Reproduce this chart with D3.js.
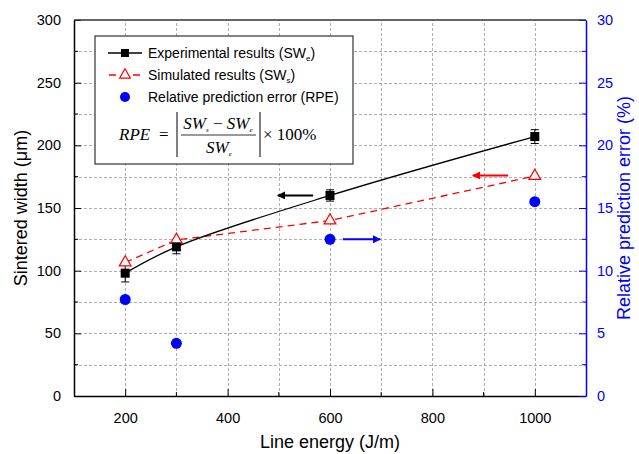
<!DOCTYPE html>
<html>
<head>
<meta charset="utf-8">
<script src="https://d3js.org/d3.v7.min.js"></script>
<style>
  body { margin: 0; background: #fff; }
  svg { font-family: "Liberation Sans", Arial, sans-serif; }
</style>
</head>
<body>
<svg id="chart"></svg>
<script>
const width = 639;
const height = 454;

// Data
const energy = [200, 300, 600, 1000];
const experimental = [98, 119, 160, 207];
const expError = [7, 5.5, 4.5, 5.5];
const simulated = [106.5, 124.5, 140, 175.5];
const rpe = [7.7, 4.2, 12.5, 15.5];

// Arrow hints: tail x, head x, value level, axis
const arrowsData = [
    { x1: 567, x2: 498, v: 160, axis: 'left', color: '#000' },
    { x1: 948, x2: 879, v: 176, axis: 'left', color: '#f00' },
    { x1: 625, x2: 698, v: 12.5, axis: 'right', color: '#0000ff' }
];

const xTicks = [200, 400, 600, 800, 1000];
const yTicks = [0, 50, 100, 150, 200, 250, 300];
const y2Ticks = [0, 5, 10, 15, 20, 25, 30];

const margin = { left: 74, right: 53, top: 20, bottom: 58 };
const x0 = margin.left, x1 = width - margin.right;
const y0 = height - margin.bottom, y1 = margin.top;

const svg = d3.select('#chart')
    .attr('width', width)
    .attr('height', height);

const x = d3.scaleLinear().domain([100, 1100]).range([x0, x1]);
const y = d3.scaleLinear().domain([0, 300]).range([y0, y1]);
const y2 = d3.scaleLinear().domain([0, 30]).range([y0, y1]);
const crisp = v => Math.round(v) + 0.5;

// Grid (dotted, every minor step)
const grid = svg.append('g').attr('class', 'grid');
grid.selectAll('path.hg')
    .data(d3.range(25, 300, 25))
    .join('path').attr('class', 'hg')
    .attr('d', d => `M${x0},${crisp(y(d))}H${x1}`);
grid.selectAll('path.vg')
    .data(d3.range(200, 1100, 100))
    .join('path').attr('class', 'vg')
    .attr('d', d => `M${crisp(x(d))},${y0}V${y1}`);
grid.selectAll('path')
    .attr('fill', 'none')
    .attr('stroke', '#b0b0b0').attr('stroke-width', 1).attr('stroke-dasharray', '3,2');

// Axes (ticks inward)
const xAxis = svg.append('g')
    .attr('transform', `translate(0,${y0})`)
    .call(d3.axisBottom(x).tickValues(xTicks).tickFormat(d3.format('d'))
        .tickSizeInner(-7).tickSizeOuter(0).tickPadding(17));
xAxis.select('.domain').attr('stroke', '#000').attr('stroke-width', 1.5);
xAxis.selectAll('text').attr('font-size', 14.5).attr('fill', '#000');
xAxis.selectAll('.minor')
    .data(d3.range(300, 1100, 200))
    .enter().append('line').attr('class', 'minor')
    .attr('x1', d => x(d)).attr('x2', d => x(d))
    .attr('y1', 0).attr('y2', -4).attr('stroke', '#000');

const yAxis = svg.append('g')
    .attr('transform', `translate(${x0},0)`)
    .call(d3.axisLeft(y).tickValues(yTicks).tickSizeInner(-7).tickSizeOuter(0).tickPadding(13));
yAxis.select('.domain').attr('stroke', '#000').attr('stroke-width', 1.5);
yAxis.selectAll('text').attr('font-size', 14.5).attr('fill', '#000');
yAxis.selectAll('.minor')
    .data(d3.range(25, 300, 50))
    .enter().append('line').attr('class', 'minor')
    .attr('y1', d => y(d)).attr('y2', d => y(d))
    .attr('x1', 0).attr('x2', 4).attr('stroke', '#000');

const y2Axis = svg.append('g')
    .attr('transform', `translate(${x1},0)`)
    .call(d3.axisRight(y2).tickValues(y2Ticks).tickSizeInner(-7).tickSizeOuter(0).tickPadding(11));
y2Axis.select('.domain').attr('stroke', '#0000ff').attr('stroke-width', 1.5);
y2Axis.selectAll('.tick line').attr('stroke', '#0000ff');
y2Axis.selectAll('text').attr('font-size', 14.5).attr('fill', '#0000ff');
y2Axis.selectAll('.minor')
    .data(d3.range(2.5, 30, 5))
    .enter().append('line').attr('class', 'minor')
    .attr('y1', d => y2(d)).attr('y2', d => y2(d))
    .attr('x1', 0).attr('x2', -4).attr('stroke', '#0000ff');

// Top frame
svg.append('line')
    .attr('x1', x0).attr('x2', x1).attr('y1', y1).attr('y2', y1)
    .attr('stroke', '#333').attr('stroke-width', 1.5);

// Axis titles
svg.append('text')
    .attr('transform', `translate(27,${(y0 + y1) / 2}) rotate(-90)`)
    .attr('text-anchor', 'middle').attr('font-size', 18)
    .text('Sintered width (\u03bcm)');
svg.append('text')
    .attr('x', (x0 + x1) / 2).attr('y', 448)
    .attr('text-anchor', 'middle').attr('font-size', 18)
    .text('Line energy (J/m)');
svg.append('text')
    .attr('transform', `translate(630,${(y0 + y1) / 2}) rotate(-90)`)
    .attr('text-anchor', 'middle').attr('font-size', 18).attr('fill', '#0000ff')
    .text('Relative prediction error (%)');

// Series
const expPts = energy.map((e, i) => ({ x: e, v: experimental[i], err: expError[i] }));
const simPts = energy.map((e, i) => ({ x: e, v: simulated[i] }));
const rpePts = energy.map((e, i) => ({ x: e, v: rpe[i] }));

const line = d3.line().x(d => x(d.x)).y(d => y(d.v));

svg.append('path').datum(simPts)
    .attr('d', line).attr('fill', 'none')
    .attr('stroke', '#f00').attr('stroke-width', 1.3).attr('stroke-dasharray', '7,5');
svg.append('path').datum(expPts)
    .attr('d', line.curve(d3.curveCatmullRom.alpha(0.5))).attr('fill', 'none')
    .attr('stroke', '#000').attr('stroke-width', 1.3);

// Error bars
const eb = svg.append('g').selectAll('g').data(expPts).enter().append('g');
eb.append('line')
    .attr('x1', d => x(d.x)).attr('x2', d => x(d.x))
    .attr('y1', d => y(d.v - d.err)).attr('y2', d => y(d.v + d.err))
    .attr('stroke', '#000');
[-1, 1].forEach(s => {
    eb.append('line')
        .attr('x1', d => x(d.x) - 4).attr('x2', d => x(d.x) + 4)
        .attr('y1', d => y(d.v + s * d.err)).attr('y2', d => y(d.v + s * d.err))
        .attr('stroke', '#000');
});

const tri = d3.symbol().type(d3.symbolTriangle).size(60);
svg.append('g').selectAll('path').data(simPts).enter().append('path')
    .attr('d', tri)
    .attr('transform', d => `translate(${x(d.x)},${y(d.v)})`)
    .attr('fill', '#fff').attr('stroke', '#f00').attr('stroke-width', 1.2);

svg.append('g').selectAll('rect').data(expPts).enter().append('rect')
    .attr('x', d => x(d.x) - 4.5).attr('y', d => y(d.v) - 4.5)
    .attr('width', 9).attr('height', 9).attr('fill', '#000');

svg.append('g').selectAll('circle').data(rpePts).enter().append('circle')
    .attr('cx', d => x(d.x)).attr('cy', d => y2(d.v)).attr('r', 5.5)
    .attr('fill', '#0000ff');

// Arrows
const defs = svg.append('defs');
arrowsData.forEach((a, i) => {
    defs.append('marker')
        .attr('id', 'arr' + i)
        .attr('viewBox', '0 0 10 10').attr('refX', 9).attr('refY', 5)
        .attr('markerWidth', 5).attr('markerHeight', 4)
        .attr('markerUnits', 'strokeWidth')
        .attr('orient', 'auto')
        .append('path').attr('d', 'M0,0 L10,5 L0,10 Z').attr('fill', a.color);
    const sc = a.axis === 'left' ? y : y2;
    svg.append('line')
        .attr('x1', x(a.x1)).attr('x2', x(a.x2))
        .attr('y1', sc(a.v)).attr('y2', sc(a.v))
        .attr('stroke', a.color).attr('stroke-width', 2)
        .attr('marker-end', `url(#arr${i})`);
});

// Legend
const lg = svg.append('g').attr('transform', 'translate(95,36)');
lg.append('rect').attr('width', 258).attr('height', 128)
    .attr('fill', '#fff').attr('stroke', '#333').attr('stroke-width', 1.2);

const legendRows = [
    { label: 'Experimental results (SW', sub: 'e', type: 'exp' },
    { label: 'Simulated results (SW', sub: 's', type: 'sim' },
    { label: 'Relative prediction error (RPE)', sub: null, type: 'rpe' }
];
legendRows.forEach((r, i) => {
    const ry = 17 + i * 22;
    const g = lg.append('g').attr('transform', `translate(0,${ry})`);
    if (r.type === 'exp') {
        g.append('line').attr('x1', 13).attr('x2', 47).attr('stroke', '#000').attr('stroke-width', 1.3);
        g.append('rect').attr('x', 26).attr('y', -4).attr('width', 8).attr('height', 8).attr('fill', '#000');
    } else if (r.type === 'sim') {
        g.append('line').attr('x1', 13).attr('x2', 47).attr('stroke', '#f00').attr('stroke-width', 1.3).attr('stroke-dasharray', '7,5').attr('stroke-dashoffset', -1);
        g.append('path').attr('d', d3.symbol().type(d3.symbolTriangle).size(50)).attr('transform', 'translate(30,0)')
            .attr('fill', '#fff').attr('stroke', '#f00').attr('stroke-width', 1.2);
    } else {
        g.append('circle').attr('cx', 30).attr('r', 5).attr('fill', '#0000ff');
    }
    const t = g.append('text').attr('x', 53).attr('y', 5).attr('font-size', 14);
    t.append('tspan').text(r.label);
    if (r.sub) {
        t.append('tspan').attr('font-size', 8).attr('dy', 3).text(r.sub);
        t.append('tspan').attr('dy', -3).text(')');
    }
});

// Formula
const fm = lg.append('g').attr('font-family', '"Liberation Serif", "Times New Roman", serif');
fm.append('text').attr('x', 24).attr('y', 104).attr('font-size', 17).attr('font-style', 'italic').text('RPE');
fm.append('text').attr('x', 64).attr('y', 104).attr('font-size', 17).text('=');
fm.append('line').attr('x1', 82).attr('x2', 82).attr('y1', 76).attr('y2', 121).attr('stroke', '#000');
fm.append('line').attr('x1', 165).attr('x2', 165).attr('y1', 76).attr('y2', 121).attr('stroke', '#000');
fm.append('line').attr('x1', 86).attr('x2', 161).attr('y1', 99).attr('y2', 99).attr('stroke', '#000').attr('stroke-width', 0.8);
const num = fm.append('text').attr('x', 123).attr('y', 93).attr('text-anchor', 'middle').attr('font-size', 17);
num.append('tspan').attr('font-style', 'italic').text('SW');
num.append('tspan').attr('font-style', 'italic').attr('font-size', 7).attr('dy', 3).text('s');
num.append('tspan').attr('dy', -3).text(' \u2212 ');
num.append('tspan').attr('font-style', 'italic').text('SW');
num.append('tspan').attr('font-style', 'italic').attr('font-size', 7).attr('dy', 3).text('e');
const den = fm.append('text').attr('x', 124).attr('y', 117).attr('text-anchor', 'middle').attr('font-size', 17);
den.append('tspan').attr('font-style', 'italic').text('SW');
den.append('tspan').attr('font-style', 'italic').attr('font-size', 7).attr('dy', 3).text('e');
fm.append('text').attr('x', 168).attr('y', 104).attr('font-size', 17).text('\u00d7 100%');
</script>
</body>
</html>
